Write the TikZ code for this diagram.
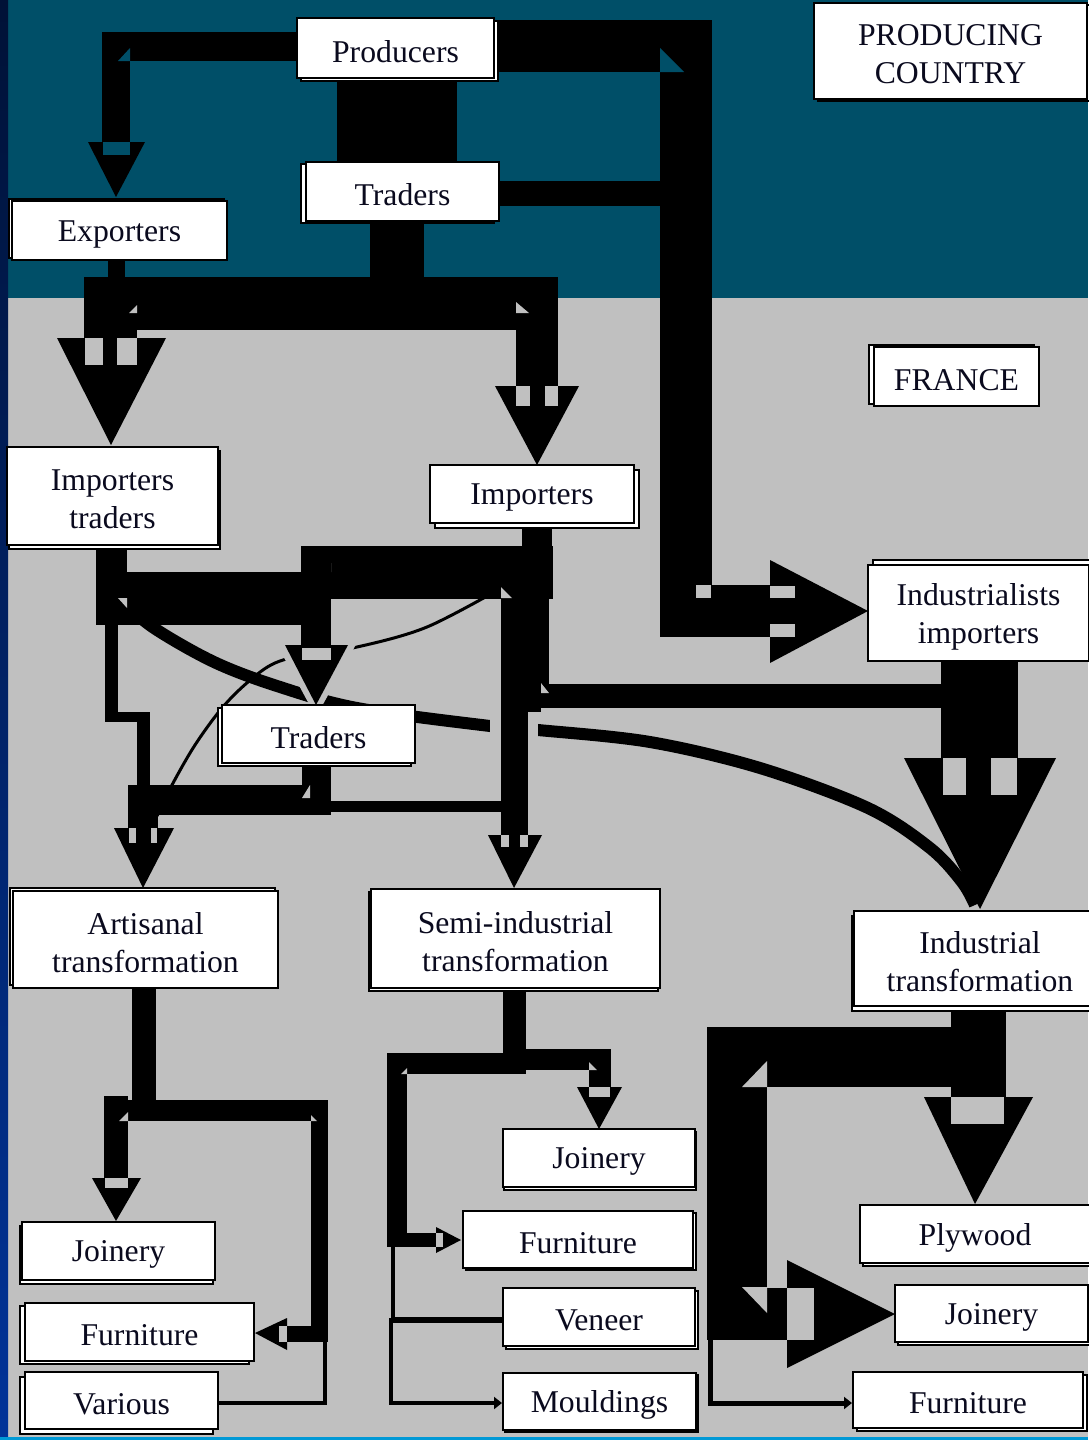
\documentclass[tikz,border=0pt]{standalone}
\usepackage{fontspec}
\setmainfont{Liberation Serif}
\usetikzlibrary{arrows.meta}
\definecolor{teal0}{RGB}{0,79,104}
\definecolor{bg}{RGB}{192,192,192}
\definecolor{navy0}{RGB}{0,18,55}
\definecolor{blueS}{RGB}{0,51,153}
\definecolor{cyanL}{RGB}{0,153,214}
\definecolor{ink}{RGB}{10,10,30}
\tikzset{
  band/.style={fill=black},
  hole/.style={fill=bg},
  holeT/.style={fill=teal0},
  whitebox/.style={draw=black,line width=2pt,fill=white,inner sep=0pt},
  boxtext/.style={inner sep=0pt,align=center,text=ink,font=\fontsize{31.7}{38}\selectfont},
  shadowbox/.style={draw=black,line width=1.2pt,fill=white},
  thinflow/.style={line width=4pt,line cap=rect},
}
\newcommand\ebox[8]{%
  \filldraw[shadowbox] ({#2+#6},{#3+#7}) rectangle ({#4+#6},{#5+#7});
  \node[whitebox,minimum width={(#4-#2)*1pt},minimum height={(#5-#3)*1pt}] (#1) at ({(#2+#4)/2},{(#3+#5)/2}) {};
  \node[boxtext] (#1-t) at ([yshift=-3.5pt]#1.center) {#8};
}
\begin{document}
\begin{tikzpicture}[x=1pt,y=-1pt]
\useasboundingbox (0,0) rectangle (1088,1440);
% backgrounds
\fill[bg] (0,0) rectangle (1088,1440);
\fill[teal0] (0,0) rectangle (1088,298);
\shade[top color=navy0,bottom color=blueS] (0,0) rectangle (8,1440);
\fill[cyanL] (0,1437) rectangle (1088,1440);

% curves (behind the bands)
\draw[line width=12pt] plot[smooth,tension=0.55] coordinates {(118,598) (154,628) (214,662) (277,686) (357,708) (490,726) (538,730) (650,742) (760,768) (868,808) (930,848) (962,882) (975,905)};
\draw[line width=3pt] plot[smooth,tension=0.55] coordinates {(505,586) (427,627) (357,647) (316,652) (275,663) (248,682) (222,708) (195,745) (172,785) (157,816)};
% halo and jump gaps
\fill[hole] (274,639) -- (359,639) -- (316,717) -- cycle;
\fill[hole] (490,712) rectangle (538,748);

% ===== producing country =====
% Producers -> Exporters
\fill[band] (102,32) rectangle (300,61);
\fill[band] (102,32) rectangle (130,142);
\fill[band] (88,142) -- (145,142) -- (116,197) -- cycle;
\fill[holeT] (130,48) -- (130,61) -- (118,61) -- cycle;
\fill[holeT] (103,142) rectangle (130,155);
% Producers -> Traders
\fill[band] (337,77) rectangle (457,164);
% Producers -> Industrialists importers
\fill[band] (494,20) rectangle (712,72);
\fill[band] (660,20) rectangle (712,637);
\fill[band] (660,585) rectangle (770,637);
\fill[band] (770,560) -- (868,611) -- (770,663) -- cycle;
\fill[holeT] (660,48) -- (660,72) -- (684,72) -- cycle;
\fill[hole] (696,585) rectangle (711,598);
\fill[hole] (770,586) rectangle (795,598);
\fill[hole] (770,624) rectangle (795,637);
% Traders -> right
\fill[band] (497,181) rectangle (662,206);
% Exporters and Traders -> importers
\fill[band] (108,258) rectangle (125,280);
\fill[band] (370,220) rectangle (424,300);
\fill[band] (84,277) rectangle (558,330);
\fill[band] (84,277) rectangle (137,338);
\fill[band] (57,338) -- (166,338) -- (111,445) -- cycle;
\fill[hole] (85,338) rectangle (103,365);
\fill[hole] (117,338) rectangle (137,365);
\fill[hole] (137,305) -- (137,313) -- (129,313) -- cycle;
\fill[band] (516,277) rectangle (558,386);
\fill[band] (495,386) -- (579,386) -- (537,465) -- cycle;
\fill[hole] (516,386) rectangle (530,406);
\fill[hole] (545,386) rectangle (558,406);
\fill[hole] (516,302) -- (516,313) -- (529,313) -- cycle;

% ===== France, middle =====
\fill[band] (522,520) rectangle (552,575);
\fill[band] (301,546) rectangle (553,599);
\fill[band] (96,543) rectangle (127,625);
\fill[band] (96,572) rectangle (331,625);
\fill[hole] (118,598) -- (127,598) -- (127,608) -- cycle;
\fill[hole] (322,572) -- (331,563) -- (331,572) -- cycle;
% to Traders (middle)
\fill[band] (301,546) rectangle (331,645);
\fill[band] (285,645) -- (348,645) -- (316,705) -- cycle;
\fill[hole] (302,648) rectangle (331,660);
% right column to semi-industrial
\fill[band] (501,575) rectangle (549,684);
\fill[band] (501,684) rectangle (541,712);
\fill[band] (501,712) rectangle (528,835);
\fill[hole] (501,587) -- (512,598) -- (501,598) -- cycle;
\fill[band] (541,684) rectangle (945,708);
\fill[hole] (541,683) -- (549,693) -- (541,693) -- cycle;
\fill[band] (488,835) -- (542,835) -- (514,888) -- cycle;
\fill[hole] (501,835) rectangle (509,847);
\fill[hole] (520,835) rectangle (528,847);
% Industrialists importers -> Industrial transformation
\fill[band] (941,658) rectangle (1018,758);
\fill[band] (904,758) -- (1056,758) -- (980,909) -- cycle;
\fill[hole] (943,758) rectangle (966,795);
\fill[hole] (991,758) rectangle (1017,795);
% Importers traders -> Artisanal (thin)
\fill[band] (105,625) rectangle (118,722);
\fill[band] (105,712) rectangle (150,722);
\fill[band] (137,712) rectangle (150,790);
% Traders -> Artisanal
\fill[band] (302,760) rectangle (331,815);
\fill[band] (128,785) rectangle (331,815);
\fill[band] (128,785) rectangle (158,828);
\fill[band] (114,828) -- (174,828) -- (143,888) -- cycle;
\fill[hole] (129,828) rectangle (136,843);
\fill[hole] (151,828) rectangle (157,843);
\fill[hole] (302,798) -- (310,785) -- (310,798) -- cycle;
% Traders -> Semi-industrial
\fill[band] (331,801) rectangle (502,812);

% ===== bottom: artisanal =====
\fill[band] (132,985) rectangle (156,1121);
\fill[band] (104,1100) rectangle (328,1121);
\fill[band] (104,1096) rectangle (128,1178);
\fill[band] (92,1178) -- (141,1178) -- (116,1221) -- cycle;
\fill[hole] (105,1178) rectangle (128,1188);
\fill[hole] (128,1112) -- (128,1121) -- (119,1121) -- cycle;
\fill[band] (311,1100) rectangle (328,1342);
\fill[band] (287,1326) rectangle (328,1342);
\fill[band] (287,1318) -- (287,1350) -- (255,1333) -- cycle;
\fill[hole] (279,1326) rectangle (287,1342);
\fill[hole] (311,1115) -- (317,1121) -- (311,1121) -- cycle;

% ===== bottom: semi-industrial =====
\fill[band] (503,985) rectangle (526,1074);
\fill[band] (387,1053) rectangle (526,1074);
\fill[band] (526,1049) rectangle (611,1070);
\fill[band] (589,1049) rectangle (611,1087);
\fill[band] (577,1087) -- (622,1087) -- (599,1129) -- cycle;
\fill[hole] (589,1087) rectangle (610,1097);
\fill[hole] (589,1062) -- (589,1070) -- (597,1070) -- cycle;
\fill[band] (387,1053) rectangle (407,1247);
\fill[band] (407,1233) rectangle (436,1247);
\fill[band] (436,1227) -- (436,1253) -- (461,1240) -- cycle;
\fill[hole] (436,1233) rectangle (443,1247);
\fill[hole] (407,1068) -- (407,1074) -- (401,1074) -- cycle;

% ===== bottom: industrial =====
\fill[band] (951,1004) rectangle (1006,1097);
\fill[band] (707,1027) rectangle (1006,1087);
\fill[band] (924,1097) -- (1033,1097) -- (975,1204) -- cycle;
\fill[hole] (951,1097) rectangle (1004,1124);
\fill[band] (707,1027) rectangle (767,1340);
\fill[band] (707,1288) rectangle (787,1340);
\fill[band] (787,1260) -- (895,1314) -- (787,1368) -- cycle;
\fill[hole] (787,1288) rectangle (814,1340);
\fill[hole] (767,1061) -- (767,1087) -- (742,1087) -- cycle;
\fill[hole] (742,1287) -- (767,1287) -- (767,1313) -- cycle;

% ===== boxes =====
\ebox{prod}{297}{18}{494}{78}{4}{3}{Producers}
\ebox{trt}{306}{162}{499}{221}{-5}{2}{Traders}
\ebox{exp}{12}{201}{227}{260}{-3}{-2}{Exporters}
\ebox{pc}{814}{3}{1087}{99}{4}{2}{PRODUCING\\COUNTRY}
\ebox{fr}{874}{347}{1039}{406}{-5}{-2}{FRANCE}
\ebox{imt}{7}{447}{218}{545}{2}{4}{Importers\\traders}
\ebox{imp}{430}{465}{634}{523}{5}{5}{Importers}
\ebox{indi}{868}{565}{1089}{661}{5}{-5}{Industrialists\\importers}
\ebox{trm}{222}{705}{415}{763}{-4}{3}{Traders}
\ebox{art}{13}{891}{278}{988}{-3}{-3}{Artisanal\\transformation}
\ebox{semi}{371}{889}{660}{988}{-2}{3}{Semi-industrial\\transformation}
\ebox{indt}{854}{911}{1106}{1006}{-2}{5}{Industrial\\transformation}
\ebox{aj}{22}{1222}{215}{1280}{-2}{4}{Joinery}
\ebox{af}{25}{1303}{254}{1361}{-5}{3}{Furniture}
\ebox{av}{25}{1372}{218}{1429}{-5}{5}{Various}
\ebox{sj}{503}{1129}{695}{1187}{1}{3}{Joinery}
\ebox{sf}{463}{1211}{693}{1268}{3}{2}{Furniture}
\ebox{sv}{503}{1288}{695}{1346}{3}{3}{Veneer}
\ebox{sm}{503}{1373}{696}{1430}{2}{2}{Mouldings}
\ebox{ip}{860}{1205}{1090}{1263}{3}{3}{Plywood}
\ebox{ij}{895}{1285}{1088}{1342}{3}{3}{Joinery}
\ebox{iff}{853}{1372}{1083}{1428}{4}{3}{Furniture}

% thin connectors between named nodes
\coordinate (vcorner) at (325,1340);
\draw[thinflow] (av.east |- 0,1403) -| (vcorner);
\coordinate (scol) at (393,1247);
\draw[line width=4pt] (scol) -- (393,1320);
\draw[line width=6pt] (393,1320) -- (sv.west |- 0,1320);
\draw[line width=4pt,-{Triangle[length=8pt,width=12pt]}] (391,1318) |- (sm.west |- 0,1403);
\coordinate (icol) at (710,1340);
\draw[line width=5pt,-{Triangle[length=8pt,width=12pt]}] (icol) |- (iff.west |- 0,1403);
\end{tikzpicture}
\end{document}
